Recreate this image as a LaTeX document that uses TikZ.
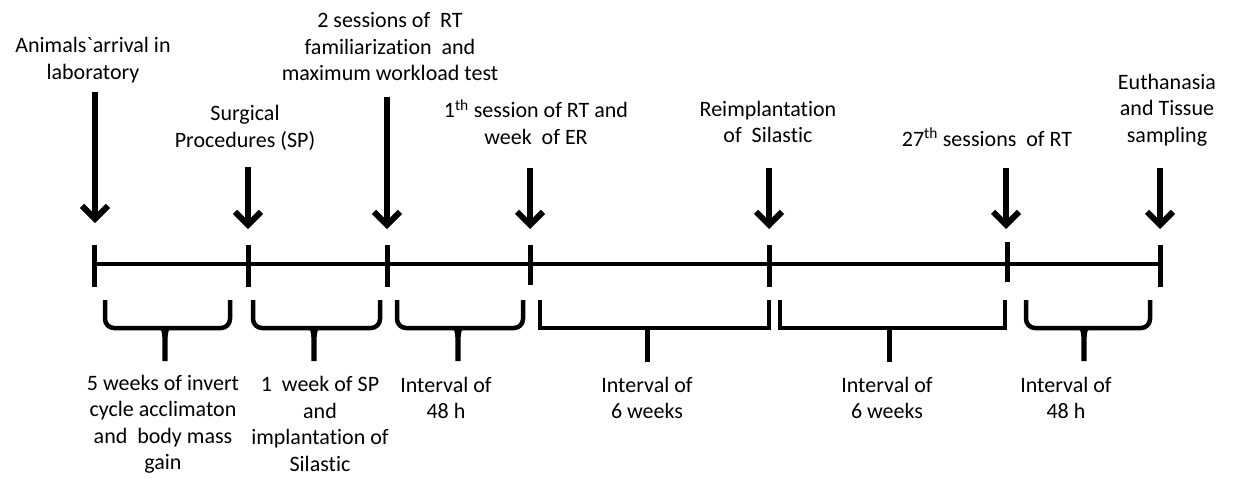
\documentclass[tikz,border=0pt]{standalone}
\usepackage{fontspec}
\setmainfont{Carlito}[Ligatures=NoCommon]
\usetikzlibrary{arrows.meta}
\newcommand\curlybr[3]{%
  \draw[brace,rounded corners=9pt] (#1,300) -- (#1,328) -- (#2,328) -- (#2,300);
  \fill (#3-11,326.5) .. controls (#3-3,326.5) and (#3-2.6,332) .. (#3-2.6,343) -- (#3-2.6,361) -- (#3+2.6,361) -- (#3+2.6,343) .. controls (#3+2.6,332) and (#3+3,326.5) .. (#3+11,326.5) -- cycle;
}
\newcommand\squarebr[3]{%
  \draw[brace] (#1,300) -- (#1,328) -- (#2,328) -- (#2,300);
  \draw[brace,line width=5pt] (#3,328) -- (#3,362);
}
\begin{document}
\begin{tikzpicture}[x=1pt,y=-1pt,
  lbl/.style={align=center,inner sep=0pt,font=\fontsize{22}{26.5}\selectfont},
  evarrow/.style={line width=6pt,-{Straight Barb[length=13pt,width=26pt]}},
  tline/.style={line width=4.5pt},
  tick/.style={line width=5pt},
  brace/.style={line width=4.5pt},
]
\useasboundingbox (0,0) rectangle (1235,477);

% timeline points
\coordinate (t1) at (94,264);
\coordinate (t7) at (1160,264);
\draw[tline] (t1) -- (t7);
\coordinate (t1u) at (94,245);   \coordinate (t1d) at (94,287);
\coordinate (t2u) at (248,245);  \coordinate (t2d) at (248,287);
\coordinate (t3u) at (387,245);  \coordinate (t3d) at (387,287);
\coordinate (t4u) at (530,245);  \coordinate (t4d) at (530,285);
\coordinate (t5u) at (769,245);  \coordinate (t5d) at (769,287);
\coordinate (t6u) at (1007,242); \coordinate (t6d) at (1007,282);
\coordinate (t7u) at (1160,245); \coordinate (t7d) at (1160,287);
\foreach \i in {1,...,7} \draw[tick] (t\i u) -- (t\i d);

% event arrows
\coordinate (a1s) at (95,92);   \coordinate (a1e) at (95,223);
\coordinate (a2s) at (248,167); \coordinate (a2e) at (248,229);
\coordinate (a3s) at (387,97);  \coordinate (a3e) at (387,229);
\coordinate (a4s) at (530,168); \coordinate (a4e) at (530,229);
\coordinate (a5s) at (769,168); \coordinate (a5e) at (769,229);
\coordinate (a6s) at (1006,168);\coordinate (a6e) at (1006,229);
\coordinate (a7s) at (1160,168);\coordinate (a7e) at (1160,229);
\foreach \i in {1,...,7} \draw[evarrow] (a\i s) -- (a\i e);

% event labels
\node[lbl] (ev1) at (93,60) {Animals\textasciigrave arrival in\\laboratory};
\node[lbl] (ev2) at (245,128) {Surgical\\Procedures (SP)};
\node[lbl] (ev3) at (390,47) {2 sessions of~ RT\\familiarization~ and\\maximum workload test};
\node[lbl] (ev4) at (536,122) {1\textsuperscript{th} session of RT and\\week~ of ER};
\node[lbl] (ev5) at (768,122) {Reimplantation\\of~ Silastic};
\node[lbl] (ev6) at (987,137) {27\textsuperscript{th} sessions~ of RT};
\node[lbl] (ev7) at (1167,110) {Euthanasia\\and Tissue\\sampling};

% braces
\curlybr{105}{230}{165}
\curlybr{253}{380}{314}
\curlybr{397}{523}{458}
\squarebr{540}{769}{647}
\squarebr{780}{1005}{889}
\curlybr{1026}{1150}{1084}

% interval labels
\node[lbl] (iv1) at (163,424) {5 weeks of invert\\cycle acclimaton\\and~ body mass\\gain};
\node[lbl] (iv2) at (320,424) {1~ week of SP\\and\\implantation of\\Silastic};
\node[lbl] (iv3) at (446,398) {Interval of\\48 h};
\node[lbl] (iv4) at (647,398) {Interval of\\6 weeks};
\node[lbl] (iv5) at (887,398) {Interval of\\6 weeks};
\node[lbl] (iv6) at (1066,398) {Interval of\\48 h};
\end{tikzpicture}
\end{document}
